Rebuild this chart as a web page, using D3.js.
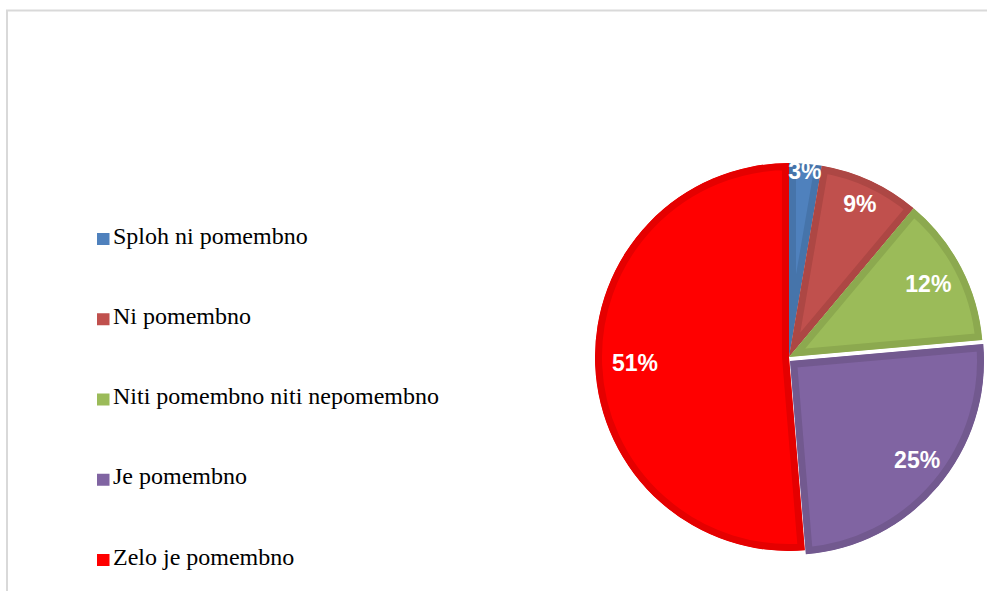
<!DOCTYPE html>
<html><head><meta charset="utf-8">
<script src="https://cdn.jsdelivr.net/npm/d3@7"></script>
<style>html,body{margin:0;padding:0;background:#fff;}svg{display:block;}</style>
</head><body>
<svg id="chart" width="987" height="591"></svg>
<script>
const categories = ["Sploh ni pomembno","Ni pomembno","Niti pomembno niti nepomembno","Je pomembno","Zelo je pomembno"];
const values = [2.7, 8.4, 12.5, 25.1, 51.3];
const labels = ["3%","9%","12%","25%","51%"];
const fillColors = ["#4F81BD","#C0504D","#9BBB59","#8064A2","#FF0000"];
const borderColors = ["#4674AA","#AD4744","#8CA94F","#72598F","#E50000"];
const labelRadius = [0.96, 0.87, 0.81, 0.83, 0.795];

const svg = d3.select("#chart");
// frame
svg.append("path").attr("d","M7,591 L7,10.5 L987,10.5").attr("fill","none").attr("stroke","#d9d9d9").attr("stroke-width",2);

const cx = 789, cy = 357, r = 194;
const explodeDX = [0,0,0,1,0], explodeDY = [0,0,0,4,0];
const pie = d3.pie().sort(null).value(d=>d)(values);
const arc = d3.arc().innerRadius(0).outerRadius(r);
const defs = svg.append("defs");
const g = svg.append("g").attr("transform",`translate(${cx},${cy})`);

pie.forEach((p,i)=>{
  const sg = g.append("g").attr("transform",`translate(${explodeDX[i]},${explodeDY[i]})`);
  defs.append("clipPath").attr("id","clip"+i).append("path").attr("d",arc(p));
  sg.append("path").attr("d",arc(p)).attr("fill",fillColors[i])
    .attr("stroke",borderColors[i]).attr("stroke-width",14).attr("stroke-linejoin","miter")
    .attr("clip-path",`url(#clip${i})`);
});
pie.forEach((p,i)=>{
  const mid = (p.startAngle+p.endAngle)/2 + (i===3 ? -0.04 : 0);
  const lr = r*labelRadius[i];
  g.append("text").attr("x",lr*Math.sin(mid)+explodeDX[i]).attr("y",-lr*Math.cos(mid)+explodeDY[i])
    .attr("text-anchor","middle").attr("dominant-baseline","central")
    .attr("font-family","'Liberation Sans', Arial, sans-serif").attr("font-weight","bold")
    .attr("font-size",23).attr("fill","#fff").text(labels[i]);
});

// legend
const ly = d3.scalePoint().domain(categories).range([236, 557]);
const lg = svg.append("g");
categories.forEach((c,i)=>{
  lg.append("rect").attr("x",97).attr("y",ly(c)-3).attr("width",12.5).attr("height",12).attr("fill",fillColors[i]);
  lg.append("text").attr("x",113).attr("y",ly(c)+7.5).attr("font-family","'Liberation Serif','Times New Roman',serif")
    .attr("font-size",24).attr("fill","#000").text(c);
});
</script>
</body></html>
